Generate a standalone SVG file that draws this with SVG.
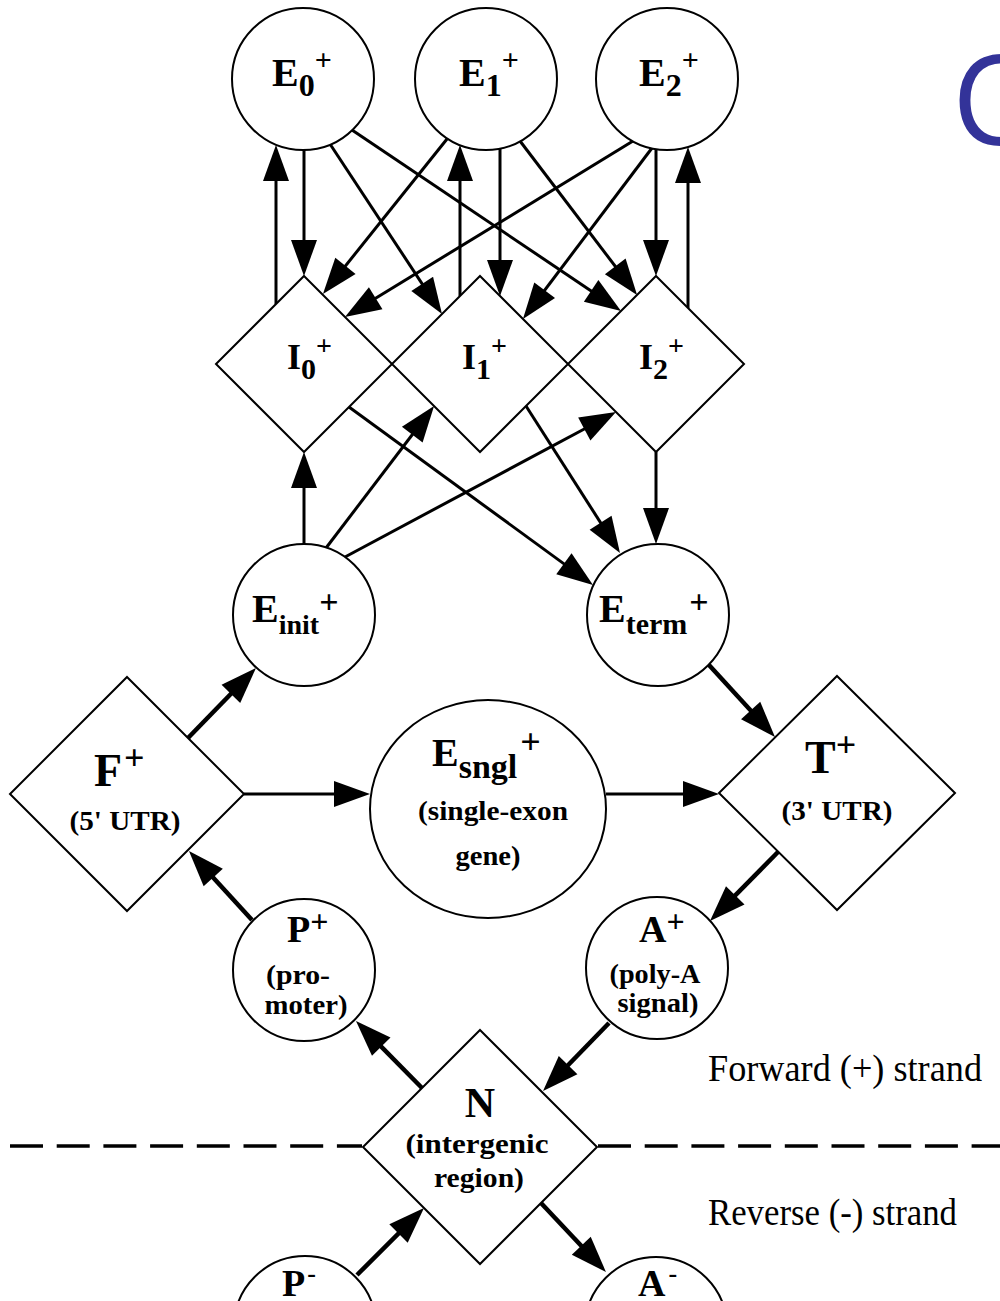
<svg xmlns="http://www.w3.org/2000/svg" width="1000" height="1301" viewBox="0 0 1000 1301">
<defs>
<marker id="ah" markerUnits="userSpaceOnUse" markerWidth="36" markerHeight="28" viewBox="0 0 36 28" refX="26" refY="14" orient="auto" overflow="visible">
<path d="M0,1 L36,14 L0,27 Z" fill="#000"/>
</marker>
</defs>
<style>
.shape{fill:#fff;stroke:#000;stroke-width:2}
.c{fill:none;stroke:#000;stroke-width:3;marker-end:url(#ah)}
.t{stroke-width:4.5}
.lb{font-family:"Liberation Serif","Times New Roman",serif;font-weight:bold;fill:#000}
.sm{font-family:"Liberation Serif","Times New Roman",serif;font-weight:bold;font-size:27px;text-anchor:middle;fill:#000}
.strand{font-family:"Liberation Serif","Times New Roman",serif;font-size:38px;fill:#000}
</style>
<rect width="1000" height="1301" fill="#fff"/>
<text x="952" y="145" font-family="Open Sans, sans-serif" font-size="124" fill="#333399">C</text>

<g id="strand-divider">
<line x1="10" y1="1146" x2="362" y2="1146" stroke="#000" stroke-width="3.5" stroke-dasharray="33 13.7"/>
<line x1="598" y1="1146" x2="1000" y2="1146" stroke="#000" stroke-width="3.5" stroke-dasharray="33 13.7"/>
</g>

<g id="connectors">
<line class="c" x1="276" y1="304" x2="276" y2="155"/>
<line class="c" x1="304" y1="150" x2="304" y2="266"/>
<line class="c" x1="330" y1="144" x2="436.5" y2="305.6"/>
<line class="c" x1="352" y1="130" x2="612.7" y2="305.4"/>
<line class="c" x1="447" y1="139" x2="329.2" y2="286.2"/>
<line class="c" x1="460" y1="296" x2="460" y2="155"/>
<line class="c" x1="500" y1="149" x2="500" y2="286"/>
<line class="c" x1="520" y1="141" x2="631" y2="287"/>
<line class="c" x1="633" y1="141" x2="353.5" y2="311.8"/>
<line class="c" x1="652" y1="148" x2="529" y2="311"/>
<line class="c" x1="656" y1="150" x2="656" y2="266"/>
<line class="c" x1="688" y1="308" x2="688" y2="157"/>
<line class="c" x1="304" y1="544" x2="304" y2="462"/>
<line class="c" x1="326" y1="548" x2="428" y2="414"/>
<line class="c" x1="345" y1="557" x2="607.2" y2="416.7"/>
<line class="c" x1="349" y1="407" x2="584.9" y2="579.1"/>
<line class="c" x1="526" y1="406" x2="614.6" y2="544.6"/>
<line class="c" x1="656" y1="452" x2="656" y2="534"/>
<line class="c t" x1="709" y1="665" x2="768.2" y2="729.6"/>
<line class="c t" x1="188" y1="738" x2="249" y2="675.2"/>
<line class="c" x1="244" y1="794" x2="360" y2="794"/>
<line class="c" x1="606" y1="794" x2="709" y2="794"/>
<line class="c t" x1="778" y1="852" x2="717" y2="913.9"/>
<line class="c t" x1="252" y1="920" x2="195.7" y2="858.4"/>
<line class="c t" x1="422" y1="1088" x2="363" y2="1028.1"/>
<line class="c t" x1="609" y1="1023" x2="550" y2="1083.8"/>
<line class="c t" x1="357" y1="1275" x2="416.9" y2="1215.1"/>
<line class="c t" x1="541" y1="1203" x2="599.1" y2="1264.7"/>
</g>

<g id="E0">
<circle class="shape" cx="303" cy="79" r="71"/>
<text class="lb" x="272" y="86"><tspan font-size="40">E</tspan><tspan font-size="32" dy="10">0</tspan><tspan font-size="30" dy="-26">+</tspan></text>
</g>
<g id="E1">
<circle class="shape" cx="486" cy="79" r="71"/>
<text class="lb" x="459" y="86"><tspan font-size="40">E</tspan><tspan font-size="32" dy="10">1</tspan><tspan font-size="30" dy="-26">+</tspan></text>
</g>
<g id="E2">
<circle class="shape" cx="667" cy="79" r="71"/>
<text class="lb" x="639" y="86"><tspan font-size="40">E</tspan><tspan font-size="32" dy="10">2</tspan><tspan font-size="30" dy="-26">+</tspan></text>
</g>

<g id="I0">
<polygon class="shape" points="304,276 392,364 304,452 216,364"/>
<text class="lb" x="287" y="369"><tspan font-size="36">I</tspan><tspan font-size="30" dy="10">0</tspan><tspan font-size="28" dy="-24">+</tspan></text>
</g>
<g id="I1">
<polygon class="shape" points="480,276 568,364 480,452 392,364"/>
<text class="lb" x="462" y="369"><tspan font-size="36">I</tspan><tspan font-size="30" dy="10">1</tspan><tspan font-size="28" dy="-24">+</tspan></text>
</g>
<g id="I2">
<polygon class="shape" points="656,276 744,364 656,452 568,364"/>
<text class="lb" x="639" y="369"><tspan font-size="36">I</tspan><tspan font-size="30" dy="10">2</tspan><tspan font-size="28" dy="-24">+</tspan></text>
</g>

<g id="Einit">
<circle class="shape" cx="304" cy="615" r="71"/>
<text class="lb" x="252" y="622"><tspan font-size="40">E</tspan><tspan font-size="28" dy="12">init</tspan><tspan font-size="34" dy="-21">+</tspan></text>
</g>
<g id="Eterm">
<circle class="shape" cx="658" cy="615" r="71"/>
<text class="lb" x="599" y="622"><tspan font-size="40">E</tspan><tspan font-size="30" dy="12">term</tspan><tspan font-size="34" dx="2" dy="-21">+</tspan></text>
</g>

<g id="F">
<polygon class="shape" points="127,677 244,794 127,911 10,794"/>
<text class="lb" x="94" y="786"><tspan font-size="46">F</tspan><tspan font-size="36" dx="2" dy="-16">+</tspan></text>
<text class="sm" x="125" y="830" textLength="111" lengthAdjust="spacingAndGlyphs">(5' UTR)</text>
</g>
<g id="Esngl">
<ellipse class="shape" cx="488" cy="809" rx="118" ry="109"/>
<text class="lb" x="432" y="766"><tspan font-size="40">E</tspan><tspan font-size="34" dy="12">sngl</tspan><tspan font-size="36" dx="3" dy="-24">+</tspan></text>
<text class="sm" x="493" y="820" textLength="150" lengthAdjust="spacingAndGlyphs">(single-exon</text>
<text class="sm" x="488" y="865" textLength="65" lengthAdjust="spacingAndGlyphs">gene)</text>
</g>
<g id="T">
<polygon class="shape" points="837,676 955,793 837,910 719,793"/>
<text class="lb" x="805" y="773"><tspan font-size="46">T</tspan><tspan font-size="36" dy="-16">+</tspan></text>
<text class="sm" x="837" y="820" textLength="111" lengthAdjust="spacingAndGlyphs">(3' UTR)</text>
</g>

<g id="Pplus">
<circle class="shape" cx="304" cy="970" r="71"/>
<text class="lb" x="287" y="942"><tspan font-size="38">P</tspan><tspan font-size="32" dy="-10">+</tspan></text>
<text class="sm" x="298" y="984" textLength="64" lengthAdjust="spacingAndGlyphs">(pro-</text>
<text class="sm" x="306" y="1014" textLength="83" lengthAdjust="spacingAndGlyphs">moter)</text>
</g>
<g id="Aplus">
<circle class="shape" cx="657" cy="968" r="71"/>
<text class="lb" x="639" y="942"><tspan font-size="38">A</tspan><tspan font-size="32" dy="-10">+</tspan></text>
<text class="sm" x="655" y="983" textLength="91" lengthAdjust="spacingAndGlyphs">(poly-A</text>
<text class="sm" x="658" y="1012" textLength="81" lengthAdjust="spacingAndGlyphs">signal)</text>
</g>

<g id="N">
<polygon class="shape" points="480,1030 597,1147 480,1264 363,1147"/>
<text class="lb" x="480" y="1117" font-size="42" text-anchor="middle">N</text>
<text class="sm" x="477" y="1153" textLength="143" lengthAdjust="spacingAndGlyphs">(intergenic</text>
<text class="sm" x="479" y="1187" textLength="90" lengthAdjust="spacingAndGlyphs">region)</text>
</g>

<g id="Pminus">
<circle class="shape" cx="305" cy="1327" r="71"/>
<text class="lb" x="282" y="1296"><tspan font-size="38">P</tspan><tspan font-size="26" dx="2" dy="-14">-</tspan></text>
</g>
<g id="Aminus">
<circle class="shape" cx="656" cy="1328" r="71"/>
<text class="lb" x="638" y="1296"><tspan font-size="38">A</tspan><tspan font-size="26" dx="3" dy="-14">-</tspan></text>
</g>

<g id="labels">
<text class="strand" x="708" y="1081" textLength="274" lengthAdjust="spacingAndGlyphs">Forward (+) strand</text>
<text class="strand" x="708" y="1225" textLength="249" lengthAdjust="spacingAndGlyphs">Reverse (-) strand</text>
</g>
</svg>
